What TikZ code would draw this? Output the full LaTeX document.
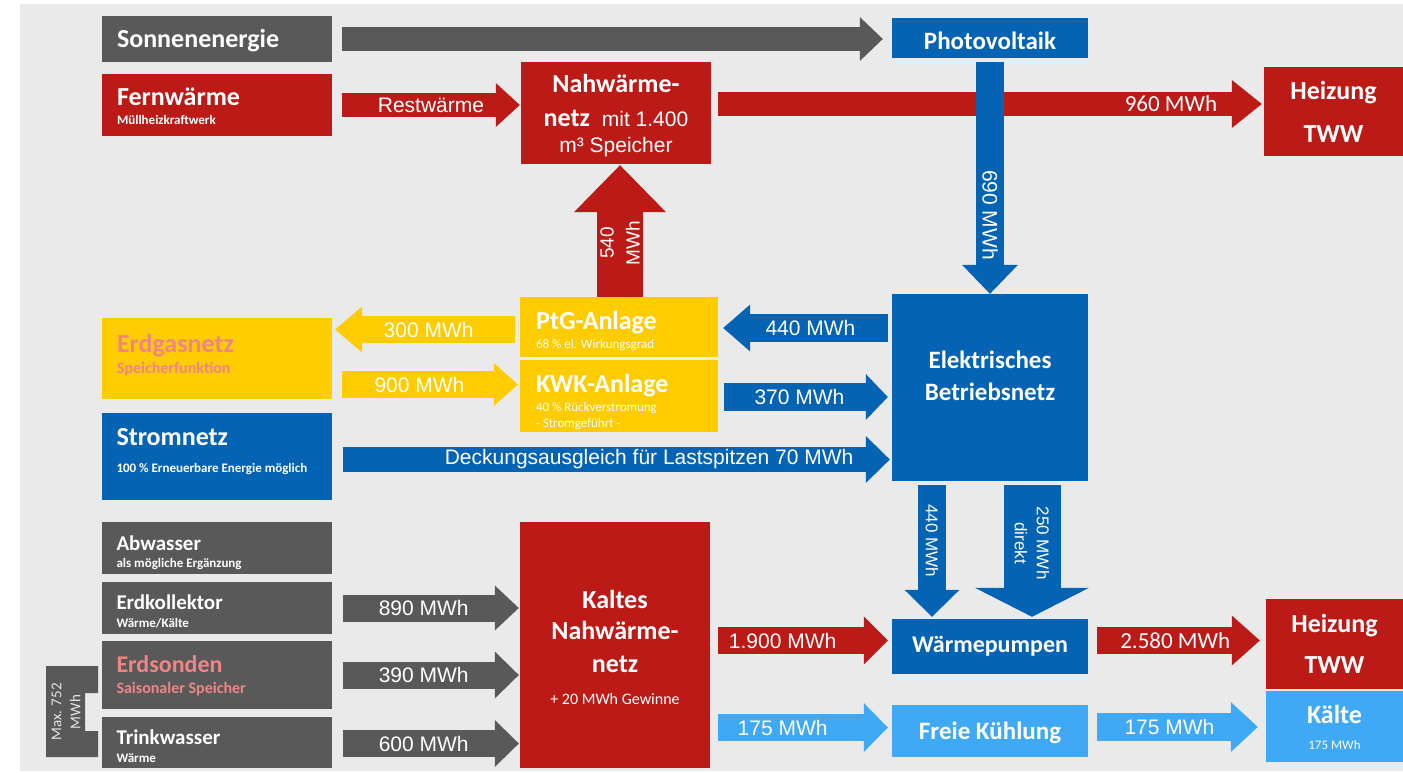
\documentclass[tikz,border=0pt]{standalone}
\usepackage{fontspec}
\setmainfont{Carlito}
\newfontfamily\lab{Liberation Sans}
\usetikzlibrary{arrows.meta}
\definecolor{ngray}{HTML}{595959}
\definecolor{nred}{HTML}{BC1A17}
\definecolor{nblue}{HTML}{0563B4}
\definecolor{nyellow}{HTML}{FFCC00}
\definecolor{nsky}{HTML}{3FA9F5}
\definecolor{npink}{HTML}{F08585}
\definecolor{nback}{HTML}{EAEAEA}
\newcommand\subline[1]{{\fontsize{13}{15}\selectfont #1}}
\begin{document}
\begin{tikzpicture}[x=1pt, y=-1pt,
  tile/.style={fill=#1, text=white, inner sep=0pt, align=flush center, font=\fontsize{26}{30}\selectfont\bfseries},
  sidetile/.style={tile=#1, inner xsep=15pt, text width=200pt, align=flush left, minimum width=230pt},
  firstline/.style={text height={max(0,2*(#1))*1pt}, text depth={max(0,-2*(#1))*1pt}},
  flow/.style n args={4}{draw=#1, line width=#2, -{Triangle[length=#3, width=#4, line width=0pt]}},
  flowlabel/.style={text=white, inner sep=0pt, font=\lab\fontsize{21}{24}\selectfont}
]
\useasboundingbox (0,0) rectangle (1403,773);
\fill[nback] (20,4) rectangle (1403,771);

% sources on the left
\node[sidetile=ngray, firstline=9, minimum height=46pt] (sonne) at (217,39) {Sonnenenergie};
\node[sidetile=nred, firstline=1, minimum height=62pt] (fern) at (217,105) {Fernwärme\\[-11pt]\subline{Müllheizkraftwerk}};
\node[sidetile=nyellow, firstline=-6.5, text=npink, minimum height=81pt] (gas) at (217,358.5) {Erdgasnetz\\[-9pt]{\fontsize{16}{18}\selectfont Speicherfunktion}};
\node[sidetile=nblue, firstline=-11.5, minimum height=87pt] (strom) at (216.5,456.5) {Stromnetz\\[-3pt]\subline{100 \% Erneuerbare Energie möglich}};
\node[sidetile=ngray, firstline=2, minimum height=52pt, font=\fontsize{21}{25}\selectfont\bfseries] (abw) at (216.5,548) {Abwasser\\[-8pt]\subline{als mögliche Ergänzung}};
\node[sidetile=ngray, firstline=1, minimum height=52pt, font=\fontsize{21}{25}\selectfont\bfseries] (erdk) at (216.5,608) {Erdkollektor\\[-7pt]\subline{Wärme/Kälte}};
\node[sidetile=ngray, firstline=-3, text=npink, minimum height=68pt, font=\fontsize{24}{28}\selectfont\bfseries] (erds) at (216.5,675) {Erdsonden\\[-7pt]{\fontsize{16}{18}\selectfont Saisonaler Speicher}};
\node[sidetile=ngray, firstline=1.5, minimum height=51pt, font=\fontsize{21}{25}\selectfont\bfseries] (trink) at (216.5,742.5) {Trinkwasser\\[-7pt]\subline{Wärme}};
\fill[ngray] (46,666) -- (98,666) -- (98,693) -- (85,693) -- (85,731) -- (98,731) -- (98,757) -- (46,757) -- cycle;
\node[rotate=90, text=white!85!ngray, align=center, inner sep=0pt, font=\fontsize{15}{16}\selectfont] (maxlabel) at (66,712) {Max. 752\\[3pt]MWh};

% plants and networks
\node[tile=nred, firstline=-20, text width=190pt, minimum height=102pt] (nahw) at (616,113) {Nahwärme-\\[4pt]netz\hspace{12pt}{\lab\mdseries\fontsize{21}{24}\selectfont mit 1.400}\\[-4pt]{\lab\mdseries\fontsize{21}{24}\selectfont m³ Speicher}};
\node[tile=nblue, firstline=12, minimum width=196pt, minimum height=40pt, font=\fontsize{25}{30}\selectfont\bfseries] (pv) at (990,38) {Photovoltaik};
\node[tile=nred, minimum width=139pt, minimum height=89pt] (heiztop) at (1333.5,111.5) {Heizung\\[13pt]TWW};
\node[tile=nyellow, firstline=2, inner xsep=16pt, text width=166pt, align=flush left, minimum width=198pt, minimum height=60pt] (ptg) at (619,327) {PtG-Anlage\\[-11pt]\subline{\mdseries 68 \% el. Wirkungsgrad}};
\node[tile=nyellow, firstline=-4, inner xsep=16pt, text width=166pt, align=flush left, minimum width=198pt, minimum height=72pt] (kwk) at (619,396) {KWK-Anlage\\[-11pt]\subline{\mdseries 40 \% Rückverstromung}\\[-14pt]\subline{\mdseries - Stromgeführt -}};
\node[tile=nblue, firstline=-19.5, text width=196pt, minimum height=187pt, font=\fontsize{25}{30}\selectfont\bfseries] (elek) at (990,387.5) {Elektrisches\\[2pt]Betriebsnetz};
\node[tile=nred, firstline=-37, text width=190pt, minimum height=246pt, font=\fontsize{26}{32}\selectfont\bfseries] (kalt) at (615,645) {Kaltes\\[-1pt]Nahwärme-\\[1pt]netz\\[0pt]{\mdseries\fontsize{16}{18}\selectfont + 20 MWh Gewinne}};
\node[tile=nblue, minimum width=196pt, minimum height=55pt, font=\fontsize{24}{28}\selectfont\bfseries] (wp) at (990,646.5) {Wärmepumpen};
\node[tile=nsky, firstline=8, minimum width=196pt, minimum height=52pt, font=\fontsize{25}{28}\selectfont\bfseries] (fk) at (990,731) {Freie Kühlung};
\node[tile=nred, minimum width=137pt, minimum height=90pt] (heizbot) at (1334.5,644) {Heizung\\[11pt]TWW};
\node[tile=nsky, firstline=-3.5, text width=137pt, minimum height=71pt] (kaelte) at (1334.5,726.5) {Kälte\\[-4pt]\subline{\mdseries 175 MWh}};

% flows
\draw[flow={ngray}{24pt}{23pt}{44pt}] ([xshift=10pt]sonne.east) -- ([xshift=-9pt]sonne.east -| pv.west);
\draw[flow={nred}{24pt}{24pt}{44pt}] ([xshift=10pt]fern.east) -- ([xshift=-1pt]fern.east -| nahw.west) node[flowlabel, pos=.5] {Restwärme};
\draw[flow={nred}{24pt}{30pt}{48pt}] ([xshift=7pt, yshift=9pt]nahw.east) -- ([xshift=-2pt, yshift=9pt]nahw.east -| heiztop.west) node[pos=.94, anchor=east, text=white, inner sep=0pt, font=\fontsize{23}{26}\selectfont] {960 MWh};
\draw[flow={nblue}{28pt}{29pt}{56pt}] ([yshift=-4pt]pv.south) -- (elek.north) node[flowlabel, pos=.66, rotate=-90] {690 MWh};
\draw[flow={nred}{46pt}{47pt}{92pt}] ([xshift=1pt]ptg.north) -- ([xshift=1pt, yshift=-1pt]ptg.north |- nahw.south) node[flowlabel, pos=.41, rotate=90, align=center, font=\lab\fontsize{19}{20}\selectfont] {540\\[6pt]MWh};
\draw[flow={nblue}{28pt}{27pt}{47pt}] ([xshift=-4pt, yshift=-1pt]elek.west |- ptg.east) -- ([xshift=5pt, yshift=-1pt]ptg.east) node[flowlabel, pos=.47] {440 MWh};
\draw[flow={nyellow}{27pt}{27pt}{46pt}] ([xshift=-5pt, yshift=-2.5pt]ptg.west) -- ([xshift=3pt, yshift=-2.5pt]ptg.west -| gas.east) node[flowlabel, pos=.48] {300 MWh};
\draw[flow={nyellow}{27pt}{24pt}{43pt}] ([xshift=10pt, yshift=11.5pt]kwk.west -| gas.east) -- ([xshift=-2pt, yshift=11.5pt]kwk.west) node[flowlabel, pos=.44] {900 MWh};
\draw[flow={nblue}{28pt}{22pt}{46pt}] ([xshift=6pt, yshift=-1pt]kwk.east) -- ([xshift=-4pt, yshift=-1pt]kwk.east -| elek.west) node[flowlabel, pos=.46] {370 MWh};
\draw[flow={nblue}{25pt}{24pt}{47pt}] ([xshift=11pt, yshift=-3pt]strom.east) -- ([xshift=-2pt, yshift=-3pt]strom.east -| elek.west) node[flowlabel, pos=.56] {Deckungsausgleich für Lastspitzen 70 MWh};
\draw[flow={nblue}{28pt}{27pt}{55pt}] ([xshift=-58pt, yshift=-4pt]elek.south) -- ([xshift=-58pt, yshift=2pt]elek.south |- wp.north) node[flowlabel, pos=.42, rotate=-90, font=\lab\fontsize{17}{20}\selectfont] {440 MWh};
\draw[flow={nblue}{57pt}{29pt}{114pt}] ([xshift=42pt, yshift=-4pt]elek.south) -- ([xshift=42pt, yshift=2pt]elek.south |- wp.north) node[flowlabel, pos=.44, rotate=-90, align=center, font=\lab\fontsize{17}{20}\selectfont] {250 MWh\\[2pt]direkt};
\draw[flow={ngray}{27pt}{24pt}{45pt}] ([xshift=11pt]erdk.east) -- ([xshift=-1pt]erdk.east -| kalt.west) node[flowlabel, pos=.46] {890 MWh};
\draw[flow={ngray}{27pt}{24pt}{47pt}] ([xshift=11pt]erds.east) -- ([xshift=-1pt]erds.east -| kalt.west) node[flowlabel, pos=.46] {390 MWh};
\draw[flow={ngray}{27pt}{24pt}{47pt}] ([xshift=11pt, yshift=-1pt]trink.east) -- ([xshift=-1pt, yshift=-1pt]trink.east -| kalt.west) node[flowlabel, pos=.46] {600 MWh};
\draw[flow={nred}{27pt}{24pt}{48pt}] ([xshift=8pt, yshift=6pt]wp.west -| kalt.east) -- ([xshift=-4pt, yshift=6pt]wp.west) node[flowlabel, pos=.38] {1.900 MWh};
\draw[flow={nsky}{27pt}{24pt}{49pt}] ([xshift=8pt, yshift=3.5pt]fk.west -| kalt.east) -- ([xshift=-4pt, yshift=3.5pt]fk.west) node[flowlabel, pos=.38] {175 MWh};
\draw[flow={nred}{27pt}{28pt}{50pt}] ([xshift=9pt, yshift=6pt]wp.east) -- ([xshift=-6pt, yshift=6pt]wp.east -| heizbot.west) node[pos=.48, text=white, inner sep=0pt, font=\fontsize{23}{26}\selectfont] {2.580 MWh};
\draw[flow={nsky}{28pt}{27pt}{50pt}] ([xshift=9pt, yshift=4pt]fk.east) -- ([xshift=-8pt, yshift=4pt]fk.east -| kaelte.west) node[flowlabel, pos=.45] {175 MWh};
\end{tikzpicture}
\end{document}
